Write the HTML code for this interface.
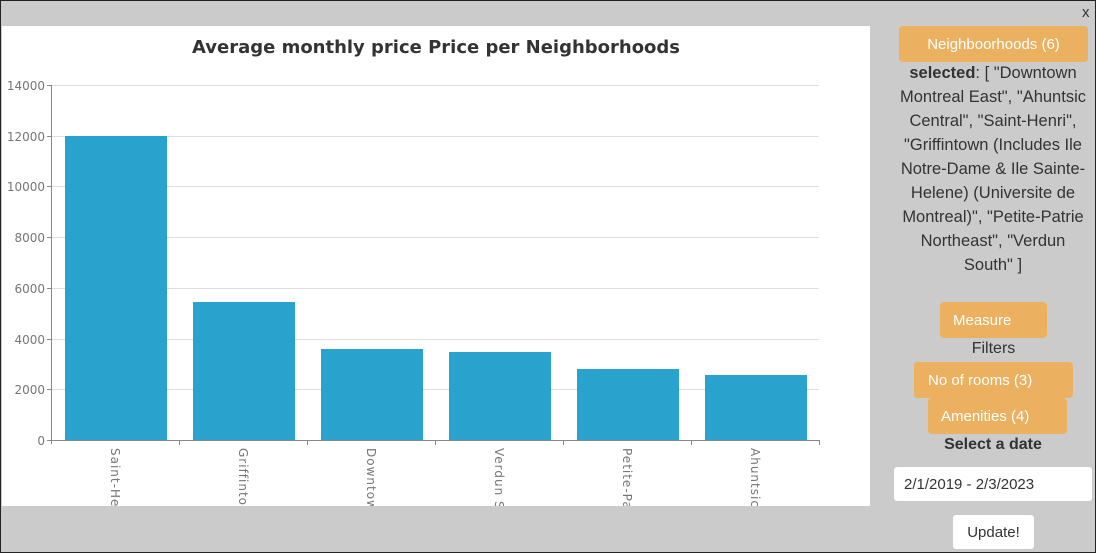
<!DOCTYPE html>
<html><head><meta charset="utf-8"><style>
html,body{margin:0;width:1096px;height:553px;overflow:hidden;font-family:"Liberation Sans","DejaVu Sans",sans-serif;}
.outer{position:absolute;left:0;top:0;width:1094px;height:551px;border:1px solid #222;background:#cbcbcb;}
.abs{position:absolute;}
.btn{position:absolute;background:#ebb160;border-radius:4px;color:#fff;font-size:15px;line-height:38px;}
.t{position:absolute;color:#333;font-size:16px;text-align:center;white-space:nowrap;}
</style></head><body>
<div class="outer"></div>
<svg class="abs" style="left:2px;top:26px" width="868" height="480" viewBox="2 26 868 480">
<rect x="2" y="26" width="868" height="480" fill="#fff"/>
<text x="436" y="53" text-anchor="middle" font-family="DejaVu Sans, sans-serif" font-size="18" font-weight="bold" fill="#333" textLength="488" lengthAdjust="spacingAndGlyphs">Average monthly price Price per Neighborhoods</text>
<g stroke="#ddd" stroke-width="1">
<line x1="51" x2="819" y1="85.5" y2="85.5"/><line x1="51" x2="819" y1="136.5" y2="136.5"/><line x1="51" x2="819" y1="186.5" y2="186.5"/><line x1="51" x2="819" y1="237.5" y2="237.5"/><line x1="51" x2="819" y1="288.5" y2="288.5"/><line x1="51" x2="819" y1="339.5" y2="339.5"/><line x1="51" x2="819" y1="389.5" y2="389.5"/>
</g>
<g fill="#29a2cd">
<rect x="65" y="136" width="102" height="304"/><rect x="193" y="302" width="102" height="138"/><rect x="321" y="349" width="102" height="91"/><rect x="449" y="352" width="102" height="88"/><rect x="577" y="369" width="102" height="71"/><rect x="705" y="375" width="102" height="65"/>
</g>
<g stroke="#888" stroke-width="1" fill="none">
<line x1="51.5" y1="85" x2="51.5" y2="444"/>
<line x1="51" y1="440.5" x2="820" y2="440.5"/>
<line x1="47" x2="51" y1="85.5" y2="85.5"/><line x1="47" x2="51" y1="136.5" y2="136.5"/><line x1="47" x2="51" y1="186.5" y2="186.5"/><line x1="47" x2="51" y1="237.5" y2="237.5"/><line x1="47" x2="51" y1="288.5" y2="288.5"/><line x1="47" x2="51" y1="339.5" y2="339.5"/><line x1="47" x2="51" y1="389.5" y2="389.5"/><line x1="47" x2="51" y1="440.5" y2="440.5"/>
<line x1="179.5" x2="179.5" y1="440" y2="445"/><line x1="307.5" x2="307.5" y1="440" y2="445"/><line x1="435.5" x2="435.5" y1="440" y2="445"/><line x1="563.5" x2="563.5" y1="440" y2="445"/><line x1="691.5" x2="691.5" y1="440" y2="445"/><line x1="819.5" x2="819.5" y1="440" y2="445"/>
</g>
<g font-family="DejaVu Sans, sans-serif" font-size="12" fill="#777" text-anchor="end">
<text x="45" y="90">14000</text><text x="45" y="141">12000</text><text x="45" y="191">10000</text><text x="45" y="242">8000</text><text x="45" y="293">6000</text><text x="45" y="344">4000</text><text x="45" y="394">2000</text><text x="45" y="445">0</text>
</g>
<g font-family="DejaVu Sans, sans-serif" font-size="12" fill="#777" letter-spacing="1">
<text transform="translate(111,448) rotate(90)">Saint-Henri</text>
<text transform="translate(239,448) rotate(90)">Griffintown (Includes)</text>
<text transform="translate(367,448) rotate(90)">Downtown Montreal</text>
<text transform="translate(495,448) rotate(90)">Verdun South</text>
<text transform="translate(623,448) rotate(90)">Petite-Patrie</text>
<text transform="translate(751,448) rotate(90)">Ahuntsic Central</text>
</g>
</svg>
<div class="abs" style="left:1082px;top:4px;font-size:15px;color:#333">x</div>
<div class="btn" style="left:899px;top:26px;width:189px;height:36px;text-align:center">Neighboorhoods (6)</div>
<div class="t" style="left:886px;top:61px;width:214px;line-height:24px;font-size:16.5px"><b>selected</b>: [ "Downtown<br>Montreal East", "Ahuntsic<br>Central", "Saint-Henri",<br>"Griffintown (Includes Ile<br>Notre-Dame &amp; Ile Sainte-<br>Helene) (Universite de<br>Montreal)", "Petite-Patrie<br>Northeast", "Verdun<br>South" ]</div>
<div class="btn" style="left:940px;top:302px;width:107px;height:36px;text-indent:13px">Measure</div>
<div class="t" style="left:940px;top:340px;width:107px">Filters</div>
<div class="btn" style="left:914px;top:362px;width:159px;height:36px;text-indent:14px">No of rooms (3)</div>
<div class="btn" style="left:928px;top:398px;width:139px;height:36px;text-indent:13px">Amenities (4)</div>
<div class="t" style="left:894px;top:436px;width:198px;font-weight:bold">Select a date</div>
<div class="abs" style="left:894px;top:467px;width:198px;height:34px;background:#fff;border-radius:3px;font-size:15px;color:#333;line-height:36px;text-indent:10px">2/1/2019 - 2/3/2023</div>
<div class="abs" style="left:953px;top:515px;width:81px;height:34px;background:#fff;border-radius:3px;font-size:15px;color:#333;line-height:36px;text-align:center">Update!</div>
</body></html>
